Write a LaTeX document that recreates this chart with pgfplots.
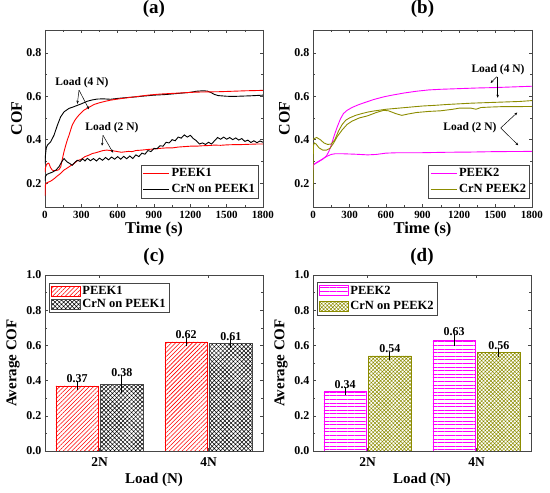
\documentclass[border=0pt]{standalone}
\usepackage{fontspec}
\setmainfont{Liberation Serif}
\usepackage{pgfplots}
\pgfplotsset{compat=1.18}
\usetikzlibrary{patterns.meta,arrows.meta}
\definecolor{olivec}{RGB}{140,140,0}
\definecolor{magc}{RGB}{255,0,255}
\definecolor{framec}{RGB}{70,70,70}
\pgfplotsset{
  base/.style={scale only axis, anchor=south west, tick align=inside,
    /pgf/number format/assume math mode=true,
    /pgf/number format/1000 sep={},
    scaled x ticks=false, scaled y ticks=false,
    ticklabel style={font=\fontsize{12}{12}\selectfont\bfseries},
    axis line style={framec, line width=0.6pt},
    every tick/.style={framec, line width=0.5pt},
    major tick length=3pt, minor tick length=1.6pt,
    yticklabel style={/pgf/number format/.cd,fixed,fixed zerofill,precision=1},
    title style={font=\fontsize{19}{19}\selectfont\bfseries, at={(axis description cs:0.5,1)}, anchor=center},
    clip=true,
  },
  lineax/.style={base, width=218pt, height=177pt, xmin=0, xmax=1800, ymin=0.09, ymax=0.905,
    xtick={0,300,600,900,1200,1500,1800}, ytick={0.2,0.4,0.6,0.8},
    minor x tick num=1, minor y tick num=1,
    xticklabel style={font=\fontsize{11}{11}\selectfont\bfseries, yshift=-1pt},
    title style={yshift=15pt},
    xlabel={Time (s)}, ylabel={COF},
    xlabel style={font=\fontsize{16.5}{16.5}\selectfont\bfseries, at={(axis description cs:0.5,0)}, anchor=center, yshift=-23pt},
    ylabel style={font=\fontsize{16}{16}\selectfont\bfseries, at={(axis description cs:-0.13,0.5)}, anchor=center},
    legend image code/.code={\draw[#1, line width=1pt] (0pt,0pt) -- (26pt,0pt);},
    legend style={anchor=south east, font=\fontsize{12.5}{12.5}\selectfont\bfseries, draw=framec, line width=0.5pt, inner sep=1.5pt, row sep=2.5pt, cells={anchor=west}},
  },
  barax/.style={base, width=218pt, height=176pt, xmin=-0.5, xmax=1.5, ymin=0, ymax=1,
    xtick={0,1}, xticklabels={2N,4N}, ytick={0,0.2,0.4,0.6,0.8,1.0}, minor y tick num=1,
    xticklabel style={font=\fontsize{13.5}{13.5}\selectfont\bfseries, yshift=-3pt},
    title style={yshift=12pt},
    xlabel={Load (N)}, ylabel={Average COF},
    xlabel style={font=\fontsize{15}{15}\selectfont\bfseries, at={(axis description cs:0.5,0)}, anchor=center, yshift=-29pt},
    ylabel style={font=\fontsize{15}{15}\selectfont\bfseries, at={(axis description cs:-0.147,0.5)}, anchor=center},
    legend image code/.code={\draw[#1] (0pt,-5pt) rectangle (29pt,5pt);},
    legend style={anchor=north west, font=\fontsize{12.5}{12.5}\selectfont\bfseries, draw=framec, line width=0.5pt, inner sep=1.5pt, cells={anchor=west}},
  },
  barplot/.style={ybar, bar width=0.39, bar shift=0pt, line width=0.7pt,
    error bars/y dir=both, error bars/y explicit,
    error bars/error bar style={black, line width=0.8pt},
    error bars/error mark options={black, line width=0.8pt, mark size=2.5pt}},
  vallab/.style={draw=none, mark=none, forget plot, nodes near coords, point meta=explicit symbolic,
    nodes near coords align={above},
    every node near coord/.append style={font=\fontsize{12}{12}\selectfont\bfseries, black, inner sep=1pt}},
}
\begin{document}
\begin{tikzpicture}[x=1pt,y=1pt]
\path[use as bounding box] (0pt,0pt) rectangle (550pt,493pt);

% ---------------- (a)
\begin{axis}[lineax, at={(45pt,286pt)}, title={(a)},
  legend style={at={(0.98,0.05)}}]
\addplot[red, line width=0.9pt] coordinates {
(0,0.14)(3,0.19)(10,0.2)(30,0.205)(50,0.21)(75,0.22)(100,0.232)(130,0.245)(157,0.26)(185,0.27)(212,0.28)(240,0.29)(267,0.303)(300,0.31)(330,0.322)(360,0.328)(390,0.336)(420,0.34)(450,0.345)(480,0.35)(510,0.352)(540,0.35)(570,0.348)(600,0.345)(630,0.342)(660,0.344)(690,0.346)(720,0.345)(750,0.35)(800,0.352)(850,0.355)(900,0.357)(950,0.36)(1000,0.362)(1050,0.362)(1100,0.366)(1150,0.368)(1200,0.37)(1250,0.37)(1300,0.372)(1350,0.373)(1400,0.375)(1450,0.374)(1500,0.376)(1550,0.377)(1600,0.377)(1650,0.378)(1700,0.379)(1750,0.38)(1800,0.38)};
\addplot[black, line width=0.9pt] coordinates {
(0,0.29)(4,0.33)(10,0.36)(19,0.374)(47,0.39)(74,0.42)(102,0.466)(129,0.505)(157,0.528)(198,0.544)(230,0.55)(267,0.558)(300,0.565)(349,0.577)(390,0.583)(432,0.587)(480,0.588)(542,0.586)(600,0.59)(680,0.594)(750,0.597)(800,0.6)(900,0.605)(1000,0.608)(1100,0.613)(1200,0.618)(1250,0.623)(1300,0.625)(1340,0.624)(1370,0.617)(1400,0.608)(1430,0.603)(1500,0.60)(1550,0.599)(1600,0.60)(1700,0.602)(1800,0.605)};
\addplot[red, line width=0.9pt, forget plot] coordinates {
(0,0.25)(4,0.27)(12,0.285)(25,0.292)(33,0.29)(45,0.272)(60,0.26)(74,0.257)(95,0.258)(115,0.262)(130,0.275)(143,0.31)(157,0.345)(171,0.374)(185,0.40)(198,0.42)(212,0.445)(225,0.467)(245,0.488)(267,0.505)(295,0.522)(322,0.536)(360,0.548)(405,0.562)(450,0.57)(500,0.577)(542,0.582)(600,0.587)(680,0.593)(750,0.598)(850,0.605)(950,0.61)(1050,0.613)(1150,0.616)(1250,0.619)(1350,0.62)(1450,0.621)(1550,0.623)(1650,0.625)(1800,0.627)};
\addplot[black, line width=0.9pt, forget plot] coordinates {
(0,0.21)(3,0.23)(15,0.24)(35,0.245)(60,0.25)(90,0.26)(115,0.275)(140,0.30)(157,0.313)(170,0.305)(184,0.297)(205,0.29)(225,0.282)(245,0.295)(267,0.305)(290,0.30)(310,0.312)(330,0.302)(350,0.314)(375,0.303)(400,0.313)(425,0.302)(450,0.315)(475,0.305)(500,0.318)(525,0.307)(550,0.32)(575,0.31)(600,0.322)(625,0.31)(650,0.323)(675,0.312)(700,0.325)(725,0.313)(750,0.33)(775,0.322)(800,0.338)(825,0.333)(850,0.35)(875,0.345)(900,0.36)(925,0.358)(950,0.372)(975,0.37)(1000,0.388)(1025,0.385)(1050,0.40)(1075,0.395)(1100,0.412)(1125,0.407)(1150,0.422)(1175,0.412)(1200,0.42)(1225,0.405)(1250,0.395)(1275,0.38)(1300,0.385)(1325,0.378)(1350,0.388)(1375,0.38)(1400,0.395)(1425,0.41)(1450,0.402)(1475,0.412)(1500,0.402)(1525,0.41)(1550,0.40)(1575,0.408)(1600,0.398)(1625,0.405)(1650,0.392)(1675,0.398)(1700,0.387)(1725,0.395)(1750,0.386)(1775,0.394)(1800,0.388)};
\legend{PEEK1, CrN on PEEK1}
\node[font=\fontsize{11.5}{11.5}\selectfont\bfseries] at (axis cs:305,0.662) {Load (4 N)};
\draw[black, line width=0.5pt, -{Stealth[length=3pt,width=2.5pt]}] (axis cs:281,0.628) -- (axis cs:267,0.565);
\draw[black, line width=0.5pt, -{Stealth[length=3pt,width=2.5pt]}] (axis cs:281,0.628) -- (axis cs:363,0.54);
\node[font=\fontsize{11.5}{11.5}\selectfont\bfseries] at (axis cs:553,0.453) {Load (2 N)};
\draw[black, line width=0.5pt, -{Stealth[length=3pt,width=2.5pt]}] (axis cs:479,0.42) -- (axis cs:471,0.372);
\draw[black, line width=0.5pt, -{Stealth[length=3pt,width=2.5pt]}] (axis cs:479,0.42) -- (axis cs:562,0.34);
\end{axis}

% ---------------- (b)
\begin{axis}[lineax, at={(313pt,286pt)}, width=219pt, title={(b)},
  legend style={at={(0.99,0.05)}}]
\addplot[magc, line width=0.9pt] coordinates {
(0,0.26)(5,0.285)(20,0.29)(50,0.30)(80,0.31)(110,0.325)(130,0.345)(150,0.375)(175,0.42)(200,0.46)(225,0.495)(250,0.52)(280,0.535)(320,0.548)(370,0.56)(420,0.57)(500,0.585)(580,0.597)(650,0.605)(750,0.615)(850,0.623)(950,0.629)(1050,0.632)(1200,0.635)(1350,0.638)(1500,0.64)(1650,0.643)(1800,0.646)};
\addplot[olivec, line width=0.9pt] coordinates {
(0,0.40)(10,0.405)(30,0.41)(60,0.40)(90,0.385)(120,0.378)(150,0.38)(180,0.40)(210,0.44)(240,0.47)(270,0.49)(300,0.50)(350,0.512)(400,0.52)(450,0.527)(500,0.532)(600,0.54)(700,0.545)(800,0.55)(900,0.555)(1000,0.558)(1100,0.562)(1200,0.565)(1300,0.568)(1400,0.57)(1500,0.572)(1600,0.574)(1700,0.576)(1800,0.58)};
\addplot[magc, line width=0.9pt, forget plot] coordinates {
(0,0.27)(5,0.285)(30,0.295)(60,0.305)(90,0.315)(120,0.325)(150,0.332)(180,0.335)(250,0.335)(350,0.333)(450,0.33)(520,0.332)(600,0.338)(700,0.34)(900,0.34)(1100,0.342)(1300,0.343)(1500,0.345)(1800,0.346)};
\addplot[olivec, line width=0.9pt, forget plot] coordinates {
(0,0.17)(3,0.37)(10,0.385)(25,0.38)(50,0.362)(80,0.352)(110,0.352)(140,0.36)(170,0.385)(200,0.415)(240,0.445)(280,0.47)(320,0.485)(380,0.50)(450,0.51)(520,0.525)(580,0.535)(620,0.533)(680,0.52)(730,0.512)(780,0.518)(850,0.525)(950,0.53)(1050,0.533)(1150,0.54)(1200,0.545)(1300,0.545)(1340,0.54)(1380,0.548)(1450,0.55)(1550,0.552)(1650,0.552)(1800,0.553)};
\legend{PEEK2, CrN PEEK2}
\node[font=\fontsize{11.5}{11.5}\selectfont\bfseries] at (axis cs:1521,0.722) {Load (4 N)};
\draw[black, line width=0.5pt, -{Stealth[length=3pt,width=2.5pt]}] (axis cs:1510,0.69) -- (axis cs:1460,0.661);
\draw[black, line width=0.5pt, -{Stealth[length=3pt,width=2.5pt]}] (axis cs:1518,0.69) -- (axis cs:1518,0.593);
\node[font=\fontsize{11.5}{11.5}\selectfont\bfseries] at (axis cs:1290,0.454) {Load (2 N)};
\draw[black, line width=0.5pt, -{Stealth[length=3pt,width=2.5pt]}] (axis cs:1543,0.454) -- (axis cs:1679,0.525);
\draw[black, line width=0.5pt, -{Stealth[length=3pt,width=2.5pt]}] (axis cs:1543,0.454) -- (axis cs:1687,0.374);
\end{axis}

% ---------------- (c)
\begin{axis}[barax, at={(45pt,42pt)}, title={(c)},
  legend style={at={(0.018,0.955)}, row sep=-1pt}]
\addplot[barplot, draw=red, pattern={Lines[angle=45,distance=3pt,line width=0.6pt]}, pattern color=red]
  coordinates {(-0.205,0.37) +- (0,0.012) (0.795,0.62) +- (0,0.01)};
\addplot[barplot, draw=framec, pattern={Hatch[angle=45,distance=3pt,line width=0.5pt]}, pattern color=black]
  coordinates {(0.205,0.38) +- (0,0.035) (1.205,0.61) +- (0,0.01)};
\legend{PEEK1, CrN on PEEK1}
\addplot[vallab] coordinates {(-0.205,0.382)[0.37] (0.205,0.415)[0.38] (0.795,0.63)[0.62] (1.205,0.62)[0.61]};
\end{axis}

% ---------------- (d)
\begin{axis}[barax, at={(313pt,42pt)}, title={(d)},
  legend style={at={(0.018,0.96)}, row sep=2pt}]
\addplot[barplot, draw=magc, pattern={Lines[angle=0,distance=3.6pt,line width=0.6pt]}, pattern color=magc]
  coordinates {(-0.205,0.34) +- (0,0.008) (0.795,0.63) +- (0,0.02)};
\addplot[barplot, draw=olivec, pattern={Hatch[angle=45,distance=2.6pt,line width=0.5pt]}, pattern color=olivec]
  coordinates {(0.205,0.54) +- (0,0.01) (1.205,0.56) +- (0,0.01)};
\legend{PEEK2, CrN on PEEK2}
\addplot[vallab] coordinates {(-0.205,0.348)[0.34] (0.205,0.55)[0.54] (0.795,0.65)[0.63] (1.205,0.57)[0.56]};
\end{axis}
\end{tikzpicture}
\end{document}
